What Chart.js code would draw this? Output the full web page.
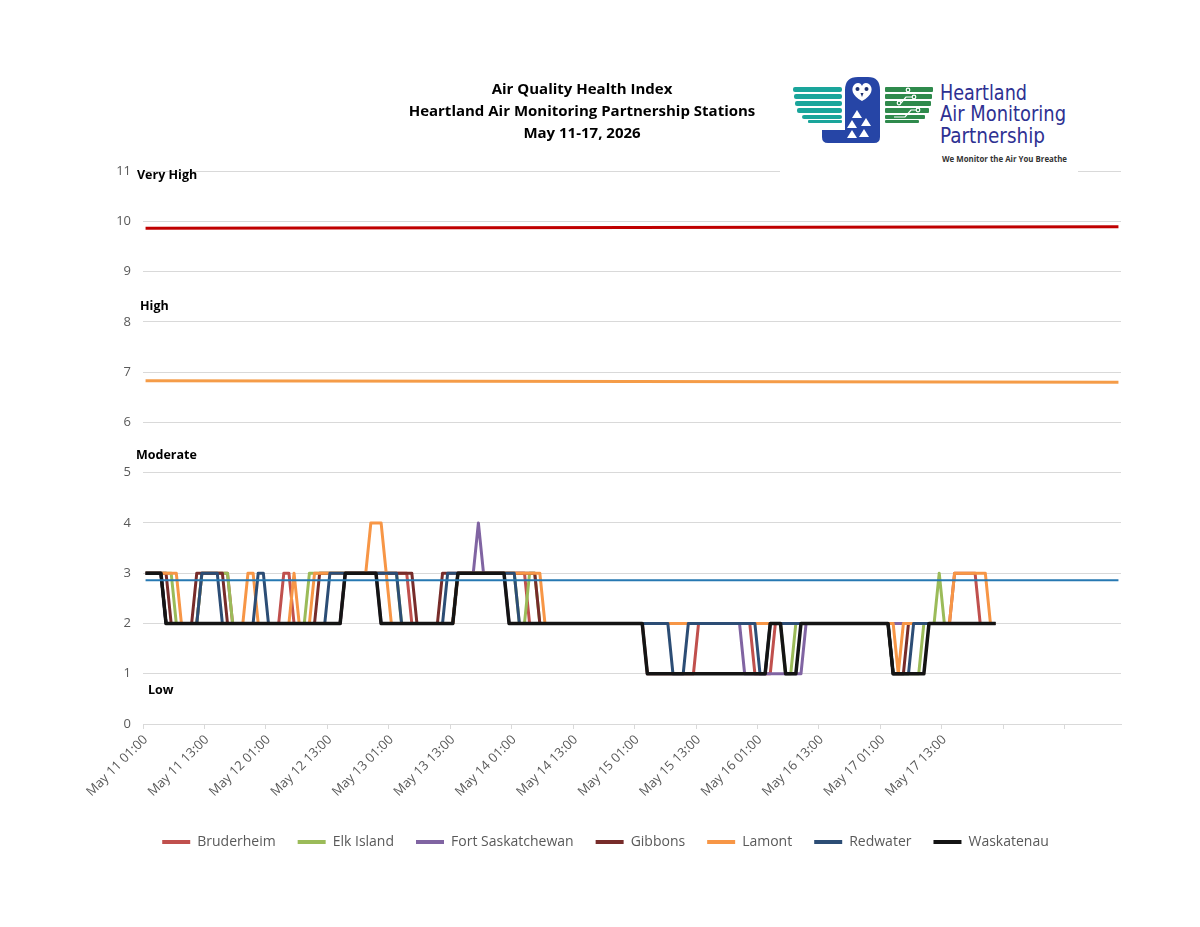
<!DOCTYPE html>
<html>
<head>
<meta charset="utf-8">
<title>Air Quality Health Index</title>
<script src="https://cdn.jsdelivr.net/npm/chart.js@4.4.1/dist/chart.umd.min.js"></script>
<style>
  html, body { margin: 0; padding: 0; background: #fff; }
  #wrap { position: relative; width: 1200px; height: 927px; overflow: hidden; }
  #aqhiChart { position: absolute; left: 0; top: 0; }
  #title {
    position: absolute; left: 332px; top: 77px; width: 500px; text-align: center;
    font: bold 15px 'Open Sans', sans-serif; line-height: 22px; color: #000;
  }
  #logo { position: absolute; left: 780px; top: 68px; width: 298px; height: 106px; background: #fff; }
</style>
</head>
<body>
<div id="wrap">
  <canvas id="aqhiChart" width="1200" height="927"></canvas>
  <div id="title">Air Quality Health Index<br>Heartland Air Monitoring Partnership Stations<br>May 11-17, 2026</div>
  <svg id="logo" width="298" height="106" viewBox="0 0 298 106" xmlns="http://www.w3.org/2000/svg">
    <rect x="0" y="0" width="298" height="106" fill="#fff"/>
    <!-- left wing -->
    <g fill="#1aa59b">
      <rect x="13" y="19" width="49" height="5" rx="2"/>
      <rect x="14" y="26" width="48" height="5" rx="2"/>
      <rect x="15" y="33" width="47" height="5" rx="2"/>
      <rect x="17" y="40" width="45" height="5" rx="2"/>
      <rect x="22" y="47" width="40" height="4" rx="2"/>
      <rect x="28" y="52" width="34" height="3" rx="1"/>
    </g>
    <!-- owl -->
    <path d="M65 22 Q65 9 78 9 L88 9 Q100 9 100 22 L100 69 Q100 75 94 75 L48 75 Q42 75 42 69 L42 62 L65 62 Z" fill="#2645a6"/>
    <path d="M82 33 C72 28 70 20 75 16 C78 14 81 15 82 18 C83 15 86 14 89 16 C94 20 92 28 82 33 Z" fill="#fff"/>
    <circle cx="77.5" cy="21" r="2" fill="#1d2f6e"/>
    <circle cx="86.5" cy="21" r="2" fill="#1d2f6e"/>
    <path d="M80.5 25 L83.5 25 L82 29 Z" fill="#1d2f6e"/>
    <g fill="#fff">
      <path d="M77 42 L82 50 L72 50 Z"/>
      <path d="M72 52 L77 60 L67 60 Z"/>
      <path d="M86 50 L91 58 L81 58 Z"/>
      <path d="M72 62 L77 70 L67 70 Z"/>
      <path d="M84 61 L89 69 L79 69 Z"/>
    </g>
    <!-- right wing -->
    <g fill="#2f8a4c">
      <rect x="105" y="19" width="48" height="5" rx="1"/>
      <rect x="105" y="26" width="47" height="5" rx="1"/>
      <rect x="105" y="33" width="46" height="5" rx="1"/>
      <rect x="105" y="40" width="44" height="5" rx="1"/>
      <rect x="105" y="47" width="40" height="4" rx="1"/>
      <rect x="105" y="52" width="34" height="3" rx="1"/>
    </g>
    <g fill="none" stroke="#fff" stroke-width="1.2">
      <circle cx="128" cy="22" r="1.8"/>
      <circle cx="134" cy="29" r="1.8"/>
      <circle cx="119" cy="35" r="1.8"/>
      <circle cx="138" cy="42" r="1.8"/>
      <path d="M121 35 L126 29 L132 29"/>
      <path d="M114 49 L125 49 L131 42 L136 42"/>
    </g>
    <!-- wordmark -->
    <g fill="#2e3192" font-family="'DejaVu Sans Condensed', 'DejaVu Sans', sans-serif" font-size="22">
      <text x="160" y="32" textLength="87" lengthAdjust="spacingAndGlyphs">Heartland</text>
      <text x="160" y="53" textLength="126" lengthAdjust="spacingAndGlyphs">Air Monitoring</text>
      <text x="160" y="75" textLength="105" lengthAdjust="spacingAndGlyphs">Partnership</text>
    </g>
    <text x="162" y="94" fill="#333" font-family="'Open Sans', sans-serif" font-weight="bold" font-size="8.5"
          textLength="125" lengthAdjust="spacingAndGlyphs">We Monitor the Air You Breathe</text>
  </svg>
</div>
<script>
(function () {
    'use strict';

    // ── Stations and colours ─────────────────────────────────────────────────
    var stations       = ['Bruderheim', 'Elk Island', 'Fort Saskatchewan', 'Gibbons', 'Lamont', 'Redwater', 'Waskatenau'];
    var stationColours = ['#c0504d', '#9bbb59', '#8064a2', '#772c2a', '#f79646', '#2c4d75', '#141414'];

    // x axis: hourly categories May 11 01:00 – May 18 23:00, labelled every 12 h
    var days       = ['May 11', 'May 12', 'May 13', 'May 14', 'May 15', 'May 16', 'May 17', 'May 18'];
    var tickLabels = ['May 11 01:00', 'May 11 13:00', 'May 12 01:00', 'May 12 13:00', 'May 13 01:00',
                      'May 13 13:00', 'May 14 01:00', 'May 14 13:00', 'May 15 01:00', 'May 15 13:00',
                      'May 16 01:00', 'May 16 13:00', 'May 17 01:00', 'May 17 13:00'];

    // ── Hourly AQHI, one row per 12 hours, starting May 11 01:00 ─────────────
    var bruderheim = [
        3,3,3,3,2,2,2,2,2,2,2,3,
        3,3,3,3,3,2,2,2,2,2,2,2,
        2,2,2,3,3,2,2,2,2,2,2,2,
        2,2,2,3,3,3,3,3,3,3,3,3,
        3,3,3,3,2,2,2,2,2,2,2,2,
        2,3,3,3,3,3,3,3,3,3,3,3,
        3,3,3,2,2,2,2,2,2,2,2,2,
        2,2,2,2,2,2,2,2,2,2,2,2,
        2,2,1,1,1,1,1,1,1,1,1,1,
        2,2,2,2,2,2,2,2,2,2,2,1,
        1,1,1,2,2,2,2,2,2,2,2,2,
        2,2,2,2,2,2,2,2,2,2,2,2,
        2,2,2,2,2,2,2,2,2,2,2,2,
        2,2,3,3,3,3,3,2,2,2,2
    ];
    var elkIsland = [
        3,3,3,3,3,3,2,2,2,2,2,3,
        3,3,3,3,3,2,2,2,2,2,2,2,
        2,2,2,2,2,2,2,2,3,3,3,3,
        3,3,3,3,3,3,3,3,3,3,3,3,
        3,3,2,2,2,2,2,2,2,2,2,2,
        2,3,3,3,3,3,3,3,3,3,3,3,
        3,2,2,3,3,2,2,2,2,2,2,2,
        2,2,2,2,2,2,2,2,2,2,2,2,
        2,2,2,2,2,2,2,2,2,2,2,2,
        2,2,2,2,2,2,2,2,2,2,2,2,
        2,2,2,2,2,1,1,2,2,2,2,2,
        2,2,2,2,2,2,2,2,2,2,2,2,
        2,2,1,1,1,1,1,1,2,2,2,3,
        2,2,2,2,2,2,2,2,2,2,2
    ];
    var fortSaskatchewan = [
        3,3,3,3,2,2,2,2,2,2,2,2,
        2,2,2,2,2,2,2,2,2,2,2,2,
        2,2,2,2,2,2,2,2,2,2,2,2,
        2,2,2,3,3,3,3,3,3,3,2,2,
        2,2,2,2,2,2,2,2,2,2,2,2,
        2,3,3,3,3,4,3,3,3,3,3,2,
        2,2,2,2,2,2,2,2,2,2,2,2,
        2,2,2,2,2,2,2,2,2,2,2,2,
        2,2,2,2,2,2,2,2,2,2,2,2,
        2,2,2,2,2,2,2,2,2,1,1,1,
        1,1,1,1,1,1,1,1,1,2,2,2,
        2,2,2,2,2,2,2,2,2,2,2,2,
        2,2,2,2,2,2,2,2,2,2,2,2,
        2,2,2,2,2,2,2,2,2,2,2
    ];
    var gibbons = [
        3,3,3,3,3,2,2,2,2,2,3,3,
        3,3,3,3,2,2,2,2,2,2,2,2,
        2,2,2,2,2,2,2,2,2,2,3,3,
        3,3,3,3,3,3,3,3,3,3,3,3,
        3,3,3,3,3,2,2,2,2,2,3,3,
        3,3,3,3,3,3,3,3,3,3,3,3,
        3,3,3,3,3,2,2,2,2,2,2,2,
        2,2,2,2,2,2,2,2,2,2,2,2,
        2,2,2,2,2,2,2,2,2,2,2,2,
        2,2,2,2,2,2,2,2,2,2,2,2,
        2,2,2,2,2,2,2,2,2,2,2,2,
        2,2,2,2,2,2,2,2,2,2,2,2,
        2,2,1,1,1,2,2,2,2,2,2,2,
        2,2,2,2,2,2,2,2,2,2,2
    ];
    var lamont = [
        3,3,3,3,3,3,3,2,2,2,2,2,
        2,2,2,2,2,2,2,2,3,3,2,2,
        2,2,2,2,2,3,2,2,2,3,3,3,
        3,3,3,3,3,3,3,3,4,4,4,3,
        2,2,2,2,2,2,2,2,2,2,2,2,
        2,3,3,3,3,3,3,3,3,3,3,3,
        3,3,3,3,3,3,2,2,2,2,2,2,
        2,2,2,2,2,2,2,2,2,2,2,2,
        2,2,2,2,2,2,2,2,2,2,2,2,
        2,2,2,2,2,2,2,2,2,2,2,2,
        2,2,2,2,2,2,2,2,2,2,2,2,
        2,2,2,2,2,2,2,2,2,2,2,2,
        2,2,2,1,2,2,2,2,2,2,2,2,
        2,2,3,3,3,3,3,3,3,2,2
    ];
    var redwater = [
        3,3,3,3,2,2,2,2,2,2,2,3,
        3,3,3,2,2,2,2,2,2,2,3,3,
        2,2,2,2,2,2,2,2,2,2,2,2,
        3,3,3,3,3,3,3,3,3,3,3,3,
        3,3,2,2,2,2,2,2,2,2,2,3,
        3,3,3,3,3,3,3,3,3,3,3,3,
        3,2,2,2,2,2,2,2,2,2,2,2,
        2,2,2,2,2,2,2,2,2,2,2,2,
        2,2,2,2,2,2,2,1,1,1,2,2,
        2,2,2,2,2,2,2,2,2,2,2,2,
        1,1,2,2,2,2,2,2,2,2,2,2,
        2,2,2,2,2,2,2,2,2,2,2,2,
        2,2,1,1,1,1,2,2,2,2,2,2,
        2,2,2,2,2,2,2,2,2,2,2
    ];
    var waskatenau = [
        3,3,3,3,2,2,2,2,2,2,2,2,
        2,2,2,2,2,2,2,2,2,2,2,2,
        2,2,2,2,2,2,2,2,2,2,2,2,
        2,2,2,3,3,3,3,3,3,3,2,2,
        2,2,2,2,2,2,2,2,2,2,2,2,
        2,3,3,3,3,3,3,3,3,3,3,2,
        2,2,2,2,2,2,2,2,2,2,2,2,
        2,2,2,2,2,2,2,2,2,2,2,2,
        2,2,1,1,1,1,1,1,1,1,1,1,
        1,1,1,1,1,1,1,1,1,1,1,1,
        1,1,2,2,2,1,1,1,2,2,2,2,
        2,2,2,2,2,2,2,2,2,2,2,2,
        2,2,1,1,1,1,1,1,1,2,2,2,
        2,2,2,2,2,2,2,2,2,2,2
    ];
    var stationValues = [bruderheim, elkIsland, fortSaskatchewan, gibbons, lamont, redwater, waskatenau];

    // Category threshold lines drawn across the chart (left value, right value)
    var thresholdStart   = [9.86, 6.83, 2.86];
    var thresholdEnd     = [9.89, 6.80, 2.86];
    var thresholdColours = ['#c00000', '#f59c48', '#2678b2'];
    var thresholdWidths  = [3, 3, 2];

    // Risk band captions along the y axis
    var bandNames  = ['Very High', 'High', 'Moderate', 'Low'];
    var bandValues = [10.92, 8.3, 5.35, 0.66];

    // ── Build hourly category list ───────────────────────────────────────────
    var categories = [];
    days.forEach(function (day, d) {
        for (var h = (d === 0 ? 1 : 0); h < 24; h++) {
            categories.push(day + ' ' + (h < 10 ? '0' : '') + h + ':00');
        }
    });
    var lastCat = categories[categories.length - 1];

    var datasets = stations.map(function (name, i) {
        return {
            label: name,
            data: stationValues[i],
            borderColor: stationColours[i],
            backgroundColor: stationColours[i],
            borderWidth: name === 'Waskatenau' ? 3.5 : 3,
            borderJoinStyle: 'round',
            pointRadius: 0,
            tension: 0,
            order: stations.length - i
        };
    });
    thresholdStart.forEach(function (v, i) {
        datasets.push({
            label: 'threshold' + i,
            data: [{ x: categories[0], y: v }, { x: lastCat, y: thresholdEnd[i] }],
            borderColor: thresholdColours[i],
            borderWidth: thresholdWidths[i],
            pointRadius: 0,
            order: 0
        });
    });

    // ── Band captions plugin ─────────────────────────────────────────────────
    var bandCaptions = {
        id: 'bandCaptions',
        afterDraw: function (chart) {
            var ctx = chart.ctx;
            var y = chart.scales.y;
            var left = chart.chartArea.left;
            var nudge = [-6, -3, -7, 5];
            ctx.save();
            ctx.font = 'bold 12.5px "Open Sans", sans-serif';
            ctx.fillStyle = '#000';
            ctx.textBaseline = 'middle';
            bandNames.forEach(function (name, i) {
                ctx.fillText(name, left + nudge[i], y.getPixelForValue(bandValues[i]));
            });
            ctx.restore();
        }
    };

    Chart.defaults.font.family = "'Open Sans', sans-serif";
    Chart.defaults.color = '#595959';

    new Chart(document.getElementById('aqhiChart'), {
        type: 'line',
        data: { labels: categories, datasets: datasets },
        options: {
            responsive: false,
            animation: false,
            layout: { padding: { top: 171, left: 90, right: 79, bottom: 68 } },
            plugins: {
                title: { display: false },
                tooltip: { enabled: false },
                legend: {
                    position: 'bottom',
                    labels: {
                        boxWidth: 28,
                        boxHeight: 4,
                        padding: 22,
                        color: '#595959',
                        font: { size: 14 },
                        filter: function (item) { return item.datasetIndex < stations.length; },
                        sort: function (a, b) { return a.datasetIndex - b.datasetIndex; },
                        generateLabels: function (chart) {
                            var items = Chart.defaults.plugins.legend.labels.generateLabels(chart);
                            items.forEach(function (it) { it.lineWidth = 0; it.fillStyle = it.strokeStyle; });
                            return items;
                        }
                    }
                }
            },
            scales: {
                x: {
                    type: 'category',
                    offset: true,
                    afterFit: function (scale) { scale.height = 89; },
                    grid: {
                        offset: true,
                        drawOnChartArea: false,
                        drawTicks: true,
                        tickLength: 5,
                        color: function (ctx) { return ctx.index % 12 === 0 ? '#d9d9d9' : 'rgba(0,0,0,0)'; }
                    },
                    border: { display: true, color: '#d9d9d9' },
                    ticks: {
                        autoSkip: false,
                        minRotation: 45,
                        maxRotation: 45,
                        font: { size: 13 },
                        color: '#595959',
                        callback: function (value) {
                            var lab = this.getLabelForValue(value);
                            return tickLabels.indexOf(lab) >= 0 ? lab : '';
                        }
                    }
                },
                y: {
                    min: 0,
                    max: 11,
                    afterFit: function (scale) { scale.width = 53; },
                    grid: { color: '#d9d9d9', drawTicks: false },
                    border: { display: false },
                    ticks: { stepSize: 1, padding: 12, font: { size: 13 }, color: '#595959' }
                }
            }
        },
        plugins: [bandCaptions]
    });
})();
</script>
</body>
</html>
